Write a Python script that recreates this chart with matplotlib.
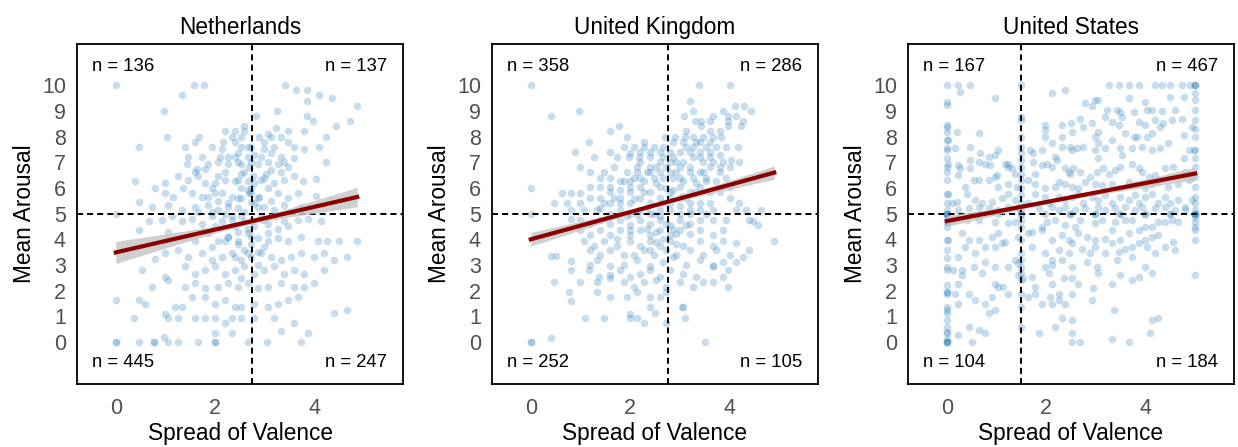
import numpy as np
import matplotlib
matplotlib.use("Agg")
import matplotlib.pyplot as plt

plt.rcParams['font.family'] = ['Liberation Sans', 'DejaVu Sans']

# panel titles and the quadrant counts printed in each corner (TL, TR, BL, BR)
countries = ["Netherlands", "United Kingdom", "United States"]
quadrant_counts = [
    [136, 137, 445, 247],
    [358, 286, 252, 105],
    [167, 467, 104, 184],
]
# where the vertical dashed line sits (spread of valence) and the horizontal one (arousal)
valence_cut = [2.75, 2.76, 1.5]
arousal_cut = 5

# fitted regression line and its confidence band
fit_intercept = [3.49, 4.0, 4.71]
fit_slope = [0.444, 0.53, 0.37]
band_center = [2.6, 2.5, 2.3]
band_min = [0.1, 0.07, 0.07]
band_growth = [0.161, 0.104, 0.086]

# (spread of valence, mean arousal) for each country
nl_points = [
    (0, 10), (1.58, 10), (1.77, 10), (3.41, 10), (1.33, 9.6), (3.63, 9.8), (3.84, 9.8),
    (4.08, 9.6), (4.35, 9.5), (3.84, 9.4), (0.97, 9.0), (3.25, 9.0), (4.86, 9.2), (2.83, 8.8),
    (3.84, 8.8), (3.96, 8.6), (4.71, 8.6), (2.59, 8.4), (4.43, 8.4), (2.19, 8.2), (2.39, 8.2),
    (3.46, 8.2), (3.79, 8.2), (3.23, 8.35), (3.06, 8.1),
    (1.03, 8.0), (1.68, 8.0), (2.89, 8.0), (3.13, 8.0), (3.33, 8.0), (4.23, 8.0), (2.33, 8.0), (2.53, 8.0),
    (0.46, 7.6), (1.39, 7.6), (1.59, 7.8), (1.93, 7.6), (2.16, 7.8), (2.39, 7.8), (2.53, 7.6),
    (2.73, 7.6), (2.99, 7.8), (3.19, 7.6), (3.46, 7.8), (3.59, 7.6), (3.79, 7.5), (4.09, 7.6),
    (1.46, 7.2), (1.73, 7.2), (2.09, 7.2), (2.26, 7.2), (2.46, 7.35), (2.66, 7.2), (2.93, 7.2),
    (3.13, 7.35), (3.33, 7.2), (3.59, 7.15),
    (1.43, 6.95), (1.63, 6.75), (1.86, 6.95), (2.06, 7.0), (2.53, 6.95), (2.69, 6.8), (2.86, 6.95),
    (3.06, 7.0), (3.26, 6.95), (3.46, 6.8), (4.23, 7.0),
    (0.39, 6.25), (0.99, 6.2), (1.26, 6.45), (1.46, 6.3), (1.66, 6.45), (1.79, 6.2), (1.99, 6.2), (2.19, 6.3),
    (2.39, 6.25), (2.53, 6.55), (2.76, 6.45), (2.93, 6.3), (3.03, 6.55), (3.19, 6.2), (3.39, 6.3),
    (3.59, 6.45), (3.76, 6.25), (4.03, 6.35),
    (0.79, 6.0), (0.99, 5.8), (1.16, 5.65), (1.36, 6.0), (1.53, 5.8), (1.73, 5.65), (1.93, 6.0),
    (2.13, 5.8), (2.33, 5.65), (2.53, 6.0), (2.69, 5.8), (2.89, 5.65), (3.06, 6.0), (3.26, 5.8),
    (3.46, 5.6), (3.66, 5.8), (4.03, 5.7),
    (0.46, 5.45), (0.73, 5.25), (1.06, 5.35), (1.33, 5.15), (1.59, 5.25), (1.86, 5.35), (2.06, 5.15),
    (2.26, 5.25), (2.46, 5.2), (2.79, 5.4), (2.99, 5.25), (3.19, 5.15), (3.39, 5.35), (3.73, 5.25), (3.93, 5.15),
    (0, 5.0),
    (0.66, 4.7), (0.93, 4.75), (1.13, 4.9), (1.33, 4.7), (1.53, 4.8), (1.73, 4.6), (1.93, 4.9), (2.13, 4.7),
    (2.33, 4.75), (2.53, 4.9), (2.73, 4.7), (2.96, 4.75), (3.19, 4.9), (3.39, 4.7), (3.66, 4.75),
    (3.86, 4.8), (4.13, 4.7),
    (0.46, 4.35), (1.06, 4.3), (1.39, 4.1), (1.59, 3.95), (1.86, 4.25), (2.06, 3.95), (2.26, 4.1),
    (2.46, 3.95), (2.66, 4.25), (2.86, 4.05), (3.06, 4.25), (3.26, 4.05), (3.46, 3.95), (3.73, 4.1),
    (4.06, 3.95), (4.26, 3.95), (4.49, 3.95), (4.86, 3.95),
    (0.79, 3.25), (0.99, 3.45), (1.26, 3.6), (1.46, 3.3), (1.73, 3.45), (1.93, 3.2), (2.13, 3.3),
    (2.33, 3.45), (2.53, 3.2), (2.73, 3.3), (2.93, 3.45), (3.13, 3.3), (3.33, 3.2), (3.53, 3.3),
    (3.73, 3.45), (3.99, 3.3), (4.19, 3.45), (4.66, 3.3),
    (0.53, 2.8), (0.99, 2.55), (1.39, 2.95), (1.59, 2.65), (1.79, 2.8), (1.99, 2.95), (2.19, 2.65),
    (2.39, 2.8), (2.59, 2.95), (2.79, 2.65), (2.99, 2.8), (3.19, 2.95), (3.39, 2.65), (3.59, 2.8),
    (3.79, 2.65), (4.19, 2.8), (4.39, 3.2),
    (0.73, 2.15), (1.06, 2.4), (1.39, 2.15), (1.59, 2.3), (1.79, 2.1), (2.06, 2.15), (2.26, 2.3),
    (2.46, 2.15), (2.66, 2.3), (2.86, 2.1), (3.06, 2.15), (3.33, 2.3), (3.59, 2.15), (3.79, 2.15), (3.99, 2.3),
    (0, 1.65), (0.46, 1.65), (0.59, 1.5), (0.99, 1.1), (1.19, 1.35), (1.33, 1.35), (1.53, 1.75),
    (1.79, 1.75), (1.99, 1.5), (2.19, 1.65), (2.39, 1.35), (2.53, 1.35), (2.79, 1.5), (3.06, 1.35),
    (3.26, 1.5), (3.46, 1.65), (3.66, 1.75), (4.66, 1.25),
    (0.36, 0.95), (1.06, 0.95), (1.26, 0.95), (1.59, 0.95), (1.79, 0.95), (1.99, 0.95), (2.19, 0.75),
    (2.33, 0.95), (2.53, 0.95), (2.79, 0.95), (3.19, 0.95), (3.33, 0.45), (3.59, 0.75), (4.39, 1.15),
    (0.97, 0.2), (1.99, 0.35), (2.33, 0.35), (3.86, 0.35),
    (0, 0), (0, 0), (0.46, 0), (0.76, 0), (0.76, 0), (1.06, 0), (1.26, 0), (1.66, 0), (1.99, 0),
    (1.99, 0), (2.66, 0), (3.04, 0), (3.73, 0),
    (2.73, 5.8), (2.73, 6.0), (2.73, 5.45), (2.66, 4.4), (2.73, 4.1), (2.46, 5.6), (2.59, 6.6),
    (2.73, 7.0), (2.79, 4.5), (2.59, 3.6), (2.46, 3.8), (2.26, 5.4), (2.06, 5.5), (2.39, 4.5),
    (1.93, 5.05), (2.59, 5.05), (2.86, 5.6), (2.99, 6.4), (3.13, 5.5), (2.19, 6.6), (2.46, 7.0),
    (2.66, 7.6), (2.26, 4.1), (1.99, 4.5), (3.06, 4.6), (2.86, 3.0), (2.53, 2.5), (2.99, 3.7),
    (1.66, 5.05), (1.86, 5.65), (2.06, 6.45), (2.26, 6.95), (2.39, 7.2), (2.46, 6.3), (2.66, 6.25),
    (2.79, 6.2), (2.86, 5.25), (2.93, 4.9), (2.59, 4.7), (2.46, 4.3), (2.33, 4.9), (2.19, 5.0),
    (1.99, 5.8), (2.73, 3.8), (2.66, 3.45), (2.86, 3.5), (3.06, 3.95), (3.26, 4.4), (3.46, 4.5),
    (2.39, 3.3), (2.19, 3.95), (1.93, 3.7), (1.73, 4.3), (2.53, 5.6), (2.66, 5.9), (3.13, 6.7),
    (3.33, 6.6), (2.99, 7.5), (2.79, 7.3), (2.59, 8.2), (3.39, 7.0), (1.59, 6.6), (1.79, 6.75), (2.13, 7.5),
]

uk_points = [
    (0, 10), (3.38, 10), (4.0, 10), (3.2, 9.4), (0.4, 8.8), (0.98, 9.0), (4.11, 9.2), (4.3, 9.2),
    (3.27, 9.0), (3.87, 9.0), (4.44, 9.0), (3.09, 8.8), (3.67, 8.8), (3.97, 8.8), (4.13, 8.8),
    (3.3, 8.6), (3.43, 8.6), (3.6, 8.6), (3.97, 8.6), (4.28, 8.6), (3.43, 8.4), (3.97, 8.4), (4.23, 8.4),
    (1.6, 8.2), (1.78, 8.4), (3.13, 8.2), (3.6, 8.2), (3.8, 8.2),
    (2.9, 8.0), (3.1, 8.0), (3.27, 8.0), (3.47, 8.0), (3.67, 8.0), (3.83, 8.0),
    (1.17, 7.8), (1.93, 8.0), (2.27, 7.8), (2.7, 8.0),
    (1.87, 7.6), (2.07, 7.6), (2.27, 7.6), (2.47, 7.6), (2.67, 7.6), (2.87, 7.8), (3.07, 7.8),
    (3.27, 7.6), (3.4, 7.8), (3.6, 7.8), (3.73, 7.6), (3.93, 7.6), (4.17, 7.6),
    (0.9, 7.4), (1.6, 7.4), (2.0, 7.35), (2.2, 7.4), (2.4, 7.4), (2.6, 7.4), (2.8, 7.4), (3.0, 7.4),
    (3.2, 7.4), (3.4, 7.4), (3.6, 7.4), (3.8, 7.3),
    (1.27, 7.2), (1.73, 7.2), (1.97, 7.2), (2.17, 7.2), (2.4, 7.2), (2.67, 7.2), (2.87, 7.2),
    (3.07, 7.0), (3.27, 7.2), (3.47, 7.0), (3.67, 7.0), (3.87, 7.0), (4.03, 7.1), (4.2, 7.0),
    (1.0, 6.8), (1.2, 6.6), (1.47, 6.6), (1.67, 6.8), (1.93, 6.6), (2.13, 6.6), (2.33, 6.6),
    (2.53, 6.8), (2.73, 6.8), (2.93, 6.6), (3.2, 6.8), (3.4, 6.6), (3.6, 6.8), (3.8, 6.8), (4.0, 6.8),
    (1.4, 6.4), (1.6, 6.4), (1.87, 6.25), (2.07, 6.4), (2.27, 6.25), (2.47, 6.4), (2.67, 6.4),
    (2.87, 6.4), (3.07, 6.25), (3.27, 6.4), (3.53, 6.25), (3.73, 6.25), (3.93, 6.4),
    (0, 6.0), (0.63, 5.8), (0.8, 5.8), (1.0, 5.8), (1.2, 6.05), (1.4, 6.05), (1.6, 6.05), (1.8, 5.9),
    (2.0, 6.05), (2.2, 6.05), (2.4, 5.85), (2.6, 6.05), (2.8, 5.85), (3.0, 6.05), (3.2, 5.85),
    (3.4, 6.05), (3.6, 5.85), (3.8, 5.85), (4.0, 6.05),
    (0.47, 5.4), (0.73, 5.4), (1.0, 5.4), (1.2, 5.6), (1.4, 5.6), (1.6, 5.4), (1.8, 5.6), (2.0, 5.4),
    (2.2, 5.6), (2.4, 5.4), (2.6, 5.6), (2.8, 5.4), (3.0, 5.6), (3.2, 5.4), (3.4, 5.4), (3.6, 5.4),
    (4.0, 5.6), (4.2, 5.4),
    (0, 5.0), (0.8, 5.15), (1.07, 5.15), (1.33, 5.15), (1.6, 5.0), (1.8, 5.15), (2.0, 5.0), (2.2, 5.15),
    (2.4, 5.0), (2.6, 5.15), (2.8, 5.15), (3.0, 5.0), (3.2, 5.15), (3.4, 5.15), (3.67, 5.15),
    (4.13, 5.15), (4.33, 5.15), (4.63, 5.15),
    (0.8, 4.8), (1.0, 4.75), (1.2, 4.6), (1.4, 4.75), (1.6, 4.6), (1.8, 4.75), (2.0, 4.55), (2.2, 4.75),
    (2.4, 4.6), (2.6, 4.75), (2.8, 4.55), (3.0, 4.75), (3.2, 4.6), (3.4, 4.75), (3.67, 4.75),
    (3.93, 4.75), (4.4, 4.75),
    (1.0, 4.35), (1.2, 4.15), (1.4, 4.35), (1.6, 4.15), (1.8, 4.35), (2.0, 4.15), (2.2, 4.35),
    (2.4, 4.15), (2.6, 4.35), (2.8, 4.15), (3.0, 4.35), (3.2, 4.2), (3.4, 4.35), (3.67, 4.15),
    (3.87, 4.35), (4.47, 4.7), (4.57, 4.55), (4.9, 3.95),
    (1.07, 3.95), (1.27, 3.75), (1.47, 3.95), (1.73, 3.75), (2.0, 3.95), (2.2, 3.75), (2.4, 3.95),
    (2.6, 3.75), (2.8, 3.95), (3.07, 3.75), (3.4, 3.95), (3.67, 3.75), (3.87, 3.95), (4.13, 3.85), (4.4, 3.6),
    (0.4, 3.35), (0.5, 3.35), (1.2, 3.6), (1.4, 3.4), (1.6, 3.6), (1.87, 3.4), (2.07, 3.4), (2.27, 3.6),
    (2.47, 3.4), (2.73, 3.6), (2.93, 3.4), (3.2, 3.6), (3.47, 3.4), (3.73, 3.6), (4.0, 3.4), (4.27, 3.3),
    (0.8, 3.15), (1.2, 3.0), (1.33, 3.2), (1.6, 2.95), (1.87, 3.0), (2.13, 3.2), (2.4, 2.95),
    (2.67, 3.1), (2.87, 3.3), (3.13, 3.0), (3.4, 3.2), (3.67, 2.95), (3.87, 3.1), (4.13, 3.1),
    (0.8, 2.8), (1.17, 2.8), (1.37, 2.55), (1.6, 2.6), (1.8, 2.8), (2.0, 2.55), (2.2, 2.65), (2.4, 2.8),
    (2.6, 2.55), (2.8, 2.8), (3.07, 2.65), (3.33, 2.55), (3.67, 2.95), (3.97, 2.8),
    (0.47, 2.35), (1.0, 2.35), (1.33, 2.35), (1.6, 2.5), (1.87, 2.35), (2.07, 2.15), (2.27, 2.35),
    (2.53, 2.4), (2.73, 2.15), (3.0, 2.35), (3.27, 2.15), (3.47, 2.35), (3.67, 2.35), (3.87, 2.55), (3.97, 2.15),
    (0.77, 1.95), (0.8, 1.6), (1.33, 1.95), (1.6, 1.75), (1.93, 1.75), (2.13, 1.95), (2.4, 1.75),
    (2.6, 1.75), (3.07, 1.35), (2.73, 1.95),
    (1.09, 0.95), (1.47, 0.95), (2.0, 1.1), (2.0, 0.95), (2.13, 0.95), (2.27, 0.75), (2.4, 1.35),
    (2.5, 1.15), (2.73, 0.75), (3.1, 0.95), (3.05, 1.35),
    (0, 0), (0, 0), (0.4, 0.15), (3.5, 0),
    (2.53, 6.2), (2.73, 6.0), (2.8, 5.6), (3.0, 6.4), (3.2, 6.6), (2.27, 5.85), (2.47, 5.0), (2.67, 5.4),
    (3.6, 7.2), (3.4, 7.2), (2.0, 5.85), (1.8, 5.4), (2.33, 4.4), (2.6, 4.9), (3.0, 5.3), (3.3, 5.85),
    (2.13, 6.8), (2.93, 7.0), (1.6, 5.85), (3.47, 6.6), (1.4, 5.2), (2.87, 4.4), (2.4, 3.6), (2.67, 4.0),
    (2.2, 6.4), (2.4, 6.6), (2.6, 6.6), (2.8, 6.6), (3.0, 6.8), (2.4, 6.8), (2.2, 7.0), (2.6, 7.0),
    (2.8, 7.0), (3.13, 7.6), (3.33, 7.8), (3.53, 7.6), (2.0, 6.25), (1.8, 6.25), (2.33, 5.2), (2.13, 5.0),
    (1.93, 4.9), (2.73, 4.6), (2.53, 4.3), (2.93, 4.2), (3.13, 4.55), (2.0, 4.35), (1.73, 4.0), (2.53, 3.9),
    (3.2, 5.0), (3.53, 5.0), (3.13, 5.6), (3.33, 6.2), (3.53, 6.4), (3.8, 6.6), (1.47, 5.4), (1.67, 5.6),
    (2.07, 5.55), (2.87, 5.9), (3.07, 5.7), (2.93, 3.8),
]

us_points = [
    # column at spread 0
    (0, 10), (0, 9.35), (0, 9.22), (0, 8.44), (0, 8.38), (0, 8.18), (0, 7.86), (0, 7.54), (0, 7.47),
    (0, 7.15), (0, 6.82), (0, 6.63), (0, 6.3), (0, 5.78), (0, 5.4), (0, 5.14), (0, 5), (0, 5), (0, 5),
    (0, 5), (0, 4.88), (0, 4.68), (0, 4.49), (0, 3.97), (0, 3.58), (0, 3.26), (0, 2.93), (0, 2.8),
    (0, 2.22), (0, 1.96), (0, 1.96), (0, 1.89), (0, 1.37), (0, 1.25), (0, 1.12), (0, 0.86), (0, 0.6),
    (0, 0.4), (0, 0.34), (0, 0.14), (0, 0), (0, 0), (0, 0), (0, 0),
    # column at spread 5
    (5, 10), (5, 10), (5, 10), (5, 9.68), (5, 9.42), (5, 9.05), (5, 8.64), (5, 8.31), (5, 7.99),
    (5, 7.47), (5, 7.15), (5, 6.82), (5, 6.43), (5, 6.04), (5, 5.65), (5, 5.4), (5, 5.14), (5, 5),
    (5, 5), (5, 5), (5, 5), (5, 4.88), (5, 4.68), (5, 4.49), (5, 4.36), (5, 3.97), (5, 2.61),
    # column at spread 1.5
    (1.5, 10), (1.5, 8.77), (1.5, 8.64), (1.5, 7.99), (1.5, 7.6), (1.5, 7.34), (1.5, 7.08), (1.5, 6.82),
    (1.5, 6.56), (1.5, 6.3), (1.5, 5.98), (1.5, 5.72), (1.5, 5.4), (1.5, 5.14), (1.5, 5), (1.5, 5),
    (1.5, 4.75), (1.5, 4.49), (1.5, 3.97), (1.5, 3.45), (1.5, 3.19), (1.5, 2.93), (1.5, 2.67),
    (1.5, 2.41), (1.5, 1.89), (1.5, 1.37), (1.5, 0.6),
    # everything else
    (0.23, 10), (0.47, 10), (0.27, 9.74), (0.97, 9.48), (2.11, 9.68), (2.38, 9.8), (3.26, 10), (3.46, 10),
    (3.66, 10), (3.86, 10), (4.19, 10), (4.33, 10), (4.5, 10), (4.73, 10), (4.9, 10), (3.05, 9.42),
    (2.99, 9.42), (2.79, 9.29), (2.92, 9.18), (3.22, 9.05), (3.42, 9.05), (3.49, 8.96), (3.66, 9.48),
    (3.76, 8.96), (3.99, 9.35), (4.03, 9.05), (4.13, 9.05), (4.33, 9.0), (4.5, 9.55), (4.6, 9.05), (4.77, 9.55),
    (0.2, 8.18), (0.47, 7.6), (0.64, 8.12), (1.98, 8.44), (1.98, 8.25), (1.98, 7.99), (2.32, 8.44),
    (2.5, 8.51), (2.68, 8.7), (2.52, 8.18), (2.32, 7.99), (2.75, 8.38), (2.92, 8.51), (2.99, 7.99),
    (3.05, 8.18), (3.19, 8.77), (3.32, 8.57), (3.46, 8.44), (3.52, 8.77), (3.59, 8.12), (3.76, 7.99),
    (3.86, 8.57), (3.99, 8.44), (4.03, 7.99), (4.13, 8.12), (4.19, 8.64), (4.3, 8.38), (4.36, 8.51),
    (4.53, 8.64), (4.73, 8.7), (4.77, 8.05), (4.93, 8.38),
    (0.03, 7.86), (0.17, 7.54), (0.67, 7.34), (0.84, 7.21), (1.04, 7.47), (0.97, 7.28), (1.24, 6.95),
    (1.68, 7.47), (1.74, 7.34), (1.91, 7.47), (2.11, 7.73), (2.18, 7.21), (2.32, 7.6), (2.48, 7.6),
    (2.52, 7.47), (2.62, 7.54), (2.75, 7.6), (2.99, 7.47), (3.05, 7.73), (3.19, 7.54), (3.32, 7.86),
    (3.49, 7.54), (3.52, 7.28), (3.72, 7.54), (3.83, 7.99), (3.93, 7.6), (4.13, 7.47), (4.3, 7.54),
    (4.46, 7.73), (4.77, 7.15), (4.87, 7.47), (4.97, 7.47),
    (0.03, 6.95), (0.23, 6.89), (0.27, 6.76), (0.47, 7.08), (0.47, 6.76), (0.64, 7.02), (0.77, 6.95),
    (0.87, 6.89), (1.01, 6.5), (1.17, 6.95), (1.24, 6.82), (1.31, 6.76), (1.38, 6.56), (1.74, 7.02),
    (1.78, 6.56), (1.91, 6.89), (2.01, 6.95), (2.11, 6.82), (2.21, 7.08), (2.38, 6.76), (2.45, 6.63),
    (2.48, 6.56), (2.55, 6.76), (2.68, 6.63), (2.89, 6.43), (3.02, 6.63), (3.05, 7.15), (3.15, 6.76),
    (3.26, 6.56), (3.39, 6.69), (3.49, 6.82), (3.72, 6.95), (3.86, 6.76), (3.93, 6.63), (4.06, 6.43),
    (4.19, 6.5), (4.4, 6.76), (4.56, 6.82), (4.8, 6.63), (4.93, 6.43),
    (0.23, 6.5), (0.37, 6.04), (0.54, 6.3), (0.64, 6.3), (0.84, 6.3), (0.97, 6.43), (1.04, 6.04),
    (1.24, 6.17), (1.41, 6.04), (1.64, 6.3), (1.78, 6.17), (1.98, 5.98), (2.18, 6.04), (2.25, 6.24),
    (2.38, 6.17), (2.52, 6.04), (2.65, 5.98), (2.79, 6.24), (2.99, 6.17), (3.12, 6.11), (3.32, 6.17),
    (3.46, 5.98), (3.66, 6.24), (3.79, 6.11), (3.99, 5.98), (4.13, 6.17), (4.26, 6.24), (4.46, 6.04),
    (4.66, 6.17), (4.87, 6.3),
    (0.03, 5.78), (0.1, 5.4), (0.2, 5.46), (0.4, 5.78), (0.57, 5.53), (0.7, 5.4), (0.91, 5.46),
    (1.11, 5.59), (1.24, 5.78), (1.38, 5.53), (1.64, 5.4), (1.78, 5.78), (1.98, 5.65), (2.05, 5.4),
    (2.25, 5.65), (2.38, 5.53), (2.52, 5.65), (2.65, 5.78), (2.75, 5.4), (2.92, 5.65), (3.05, 5.53),
    (3.19, 5.72), (3.32, 5.4), (3.49, 5.65), (3.66, 5.53), (3.79, 5.72), (3.86, 5.4), (3.99, 5.65),
    (4.13, 5.78), (4.26, 5.4), (4.4, 5.65), (4.5, 5.4), (4.66, 5.53), (4.8, 5.27), (4.93, 5.53),
    (0.23, 5.14), (0.44, 5.2), (0.64, 5.27), (0.84, 5.2), (1.04, 5.14), (1.24, 5.27), (1.44, 5.2),
    (1.85, 5.2), (2.11, 5.27), (2.25, 5.14), (2.38, 5.27), (2.58, 5.14), (2.79, 5.2), (3.05, 5.27),
    (3.19, 5.14), (3.39, 5.2), (3.59, 5.27), (3.79, 5.14), (3.93, 5.27), (4.19, 5.2), (4.4, 5.27),
    (4.6, 5.14), (4.8, 5.14),
    (2.48, 5), (2.48, 5), (2.99, 5), (2.99, 5), (3.49, 5), (3.49, 5), (3.99, 5), (3.99, 5), (4.5, 5),
    (4.5, 5), (1.98, 5), (0.64, 5), (1.04, 5),
    (0.03, 4.68), (0.17, 4.75), (0.4, 4.75), (0.64, 4.75), (0.97, 4.68), (1.24, 4.62), (1.38, 4.68),
    (1.71, 4.29), (1.91, 4.49), (2.01, 4.68), (2.18, 4.75), (2.38, 4.55), (2.58, 4.49), (2.68, 4.75),
    (2.99, 4.62), (3.12, 4.75), (3.39, 4.68), (3.59, 4.75), (3.72, 4.75), (3.99, 4.49), (4.13, 4.49),
    (4.26, 4.68), (4.4, 4.68), (4.53, 4.75), (4.66, 4.68),
    (0.03, 3.97), (0.3, 4.23), (0.44, 3.97), (0.64, 3.97), (0.91, 4.1), (1.04, 4.23), (1.17, 3.9),
    (1.44, 4.1), (1.64, 4.23), (1.91, 4.36), (2.11, 3.97), (2.32, 4.16), (2.45, 3.97), (2.65, 4.23),
    (2.82, 4.1), (2.99, 3.97), (3.19, 4.03), (3.32, 4.36), (3.49, 3.97), (3.66, 4.23), (3.86, 4.36),
    (3.99, 3.97), (4.13, 4.1), (4.26, 4.16), (4.56, 3.9),
    (0.23, 3.32), (0.37, 3.71), (0.57, 3.45), (0.77, 3.71), (0.97, 3.71), (1.11, 3.84), (1.38, 3.19),
    (1.71, 3.71), (1.98, 3.45), (2.11, 3.19), (2.25, 3.58), (2.45, 3.45), (2.52, 3.84), (2.72, 3.64),
    (2.89, 3.45), (2.99, 3.71), (3.19, 3.45), (3.32, 3.84), (3.46, 3.51), (3.59, 3.64), (3.72, 3.71),
    (3.86, 3.84), (4.03, 3.71), (4.19, 3.45), (4.4, 3.71), (4.6, 3.58),
    (0.3, 2.8), (0.54, 2.93), (0.77, 3.13), (0.97, 2.93), (1.24, 2.93), (1.44, 3.06), (1.98, 2.93),
    (2.11, 3.0), (2.32, 3.19), (2.52, 2.93), (2.82, 3.13), (3.02, 2.93), (3.42, 3.19), (3.72, 3.32), (3.99, 2.93),
    (0.13, 2.8), (0.23, 2.28), (0.3, 2.61), (0.44, 1.89), (0.7, 2.67), (0.97, 2.28), (1.04, 2.15),
    (1.14, 2.15), (1.44, 2.61), (1.54, 2.48), (1.71, 2.54), (1.78, 2.15), (2.05, 2.67), (2.11, 2.28),
    (2.35, 2.48), (2.52, 2.48), (2.65, 2.28), (2.95, 2.09), (3.05, 2.67), (3.32, 2.28), (3.49, 2.61),
    (3.72, 2.41), (3.86, 2.54), (4.13, 2.67), (0.17, 1.89), (0.91, 1.76), (1.24, 1.89), (1.64, 1.76),
    (1.78, 1.89), (2.08, 1.76), (2.25, 1.89), (2.52, 1.89),
    (0.23, 1.5), (0.57, 1.63), (0.77, 1.5), (0.84, 1.12), (0.97, 1.25), (1.91, 1.5), (2.11, 1.5),
    (2.25, 1.63), (2.38, 1.5), (2.92, 1.63), (3.36, 1.25), (4.13, 0.86), (4.26, 0.92), (2.32, 0.92), (2.52, 0.86),
    (0.23, 0.27), (0.44, 0.6), (0.5, 0), (0.64, 0.47), (0.77, 0.34), (1.85, 0.34), (2.18, 0.6),
    (2.52, 0.34), (2.52, 0), (2.68, 0), (3.32, 0.14), (3.66, 0), (4.09, 0.34),
]

all_points = [nl_points, uk_points, us_points]

fig = plt.figure(figsize=(12.38, 4.47), dpi=100)
lefts = [77, 492, 908]
dash = (0, (3.1, 2.1))

for i, country in enumerate(countries):
    ax = fig.add_axes([lefts[i] / 1238, 63 / 447, 326 / 1238, 340 / 447])
    pts = np.array(all_points[i], dtype=float)
    x, y = pts[:, 0], pts[:, 1]

    ax.scatter(x, y, s=30, color='#3182bd', alpha=0.27, linewidths=0, zorder=1)
    ax.axhline(arousal_cut, color='black', lw=1.4, ls=dash, zorder=2)
    ax.axvline(valence_cut[i], color='black', lw=1.4, ls=dash, zorder=2)

    # regression line with its confidence band
    xs = np.linspace(x.min(), x.max(), 100)
    ys = fit_intercept[i] + fit_slope[i] * xs
    hw = np.sqrt(band_min[i] ** 2 + band_growth[i] ** 2 * (xs - band_center[i]) ** 2)
    ax.fill_between(xs, ys - hw, ys + hw, color='#c8c8c8', alpha=0.85, lw=0, zorder=3)
    ax.plot(xs, ys, color='#8b0000', lw=3, zorder=4)

    tl, tr, bl, br = quadrant_counts[i]
    kw = dict(transform=ax.transAxes, fontsize=13.3, va='center', zorder=5)
    ax.text(0.046, 0.935, f"n = {tl}", ha='left', **kw)
    ax.text(0.952, 0.935, f"n = {tr}", ha='right', **kw)
    ax.text(0.046, 0.062, f"n = {bl}", ha='left', **kw)
    ax.text(0.952, 0.062, f"n = {br}", ha='right', **kw)

    ax.set_xlim(-0.78, 5.78)
    ax.set_ylim(-1.63, 11.6)
    ax.set_xticks([0, 2, 4])
    ax.set_yticks(range(0, 11))
    ax.tick_params(axis='both', length=0, labelsize=15.5, labelcolor='#505050')
    ax.tick_params(axis='x', pad=10)
    ax.tick_params(axis='y', pad=8)
    for sp in ax.spines.values():
        sp.set_linewidth(1.3)
        sp.set_color('black')

    ax.set_title(country, fontsize=16.3, pad=7)
    ax.set_xlabel("Spread of Valence", fontsize=16.3, labelpad=2)
    ax.set_ylabel("Mean Arousal", fontsize=16.3, labelpad=4)

fig.savefig("out.png", dpi=100)
